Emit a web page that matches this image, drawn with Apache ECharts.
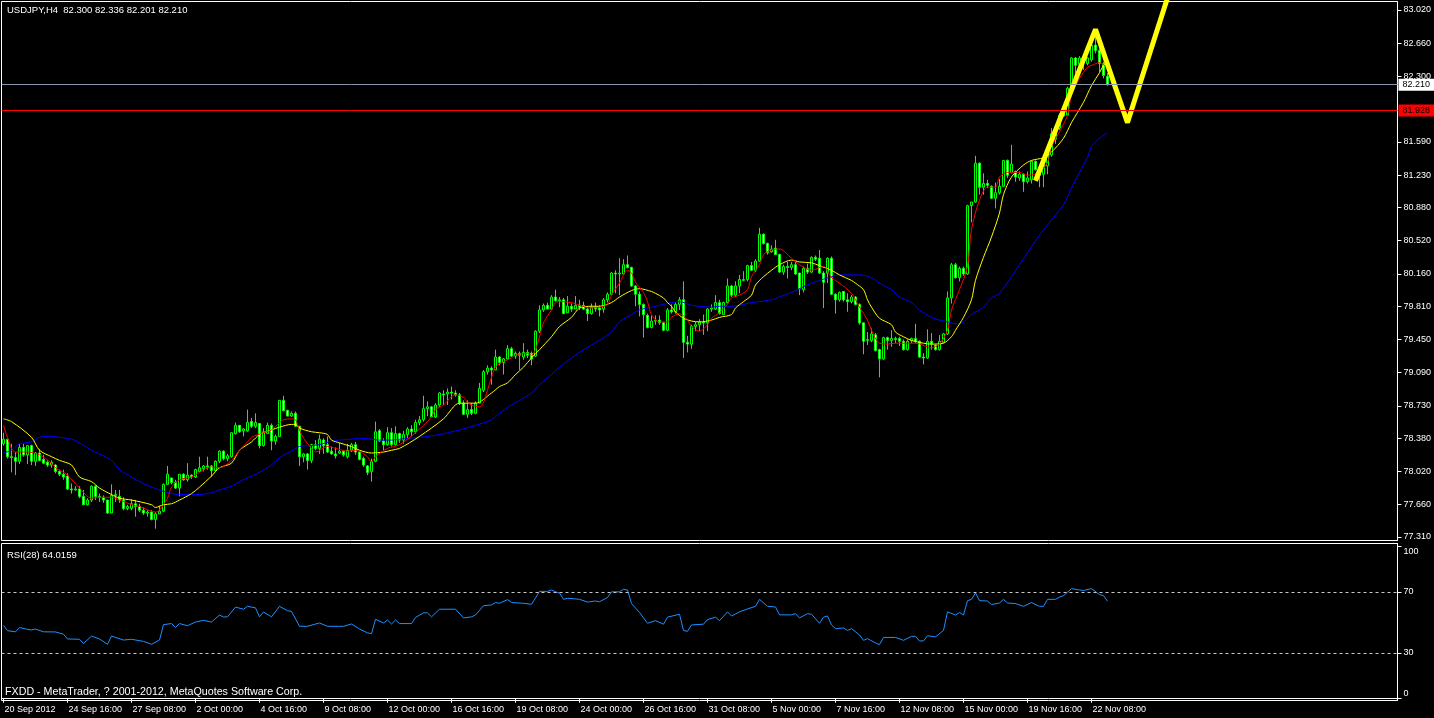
<!DOCTYPE html>
<html><head><meta charset="utf-8">
<script src="https://cdn.jsdelivr.net/npm/echarts@6/dist/echarts.min.js"></script>
<style>html,body{margin:0;padding:0;background:#000;overflow:hidden}#c{width:1434px;height:718px}</style>
</head><body><div id="c"></div>
<script>
const FONT = 'Liberation Sans, Arial, sans-serif';
const headerText = 'USDJPY,H4  82.300 82.336 82.201 82.210';
const rsiText = 'RSI(28) 64.0159';
const footerText = 'FXDD - MetaTrader, ? 2001-2012, MetaQuotes Software Corp.';
const tickLabels = ['20 Sep 2012','24 Sep 16:00','27 Sep 08:00','2 Oct 00:00','4 Oct 16:00','9 Oct 08:00','12 Oct 00:00','16 Oct 16:00','19 Oct 08:00','24 Oct 00:00','26 Oct 16:00','31 Oct 08:00','5 Nov 00:00','7 Nov 16:00','12 Nov 08:00','15 Nov 00:00','19 Nov 16:00','22 Nov 08:00'];
const priceTicks = [83.020,82.660,82.300,81.590,81.230,80.880,80.520,80.160,79.810,79.450,79.090,78.730,78.380,78.020,77.660,77.310];
const rsiTicks = [100,70,30,0];
const rsiLevels = [70,30];
const bidPrice = 82.210;
const levelPrice = 81.928;
// [open, high, low, close]
const candles = [
[78.32,78.44,78.30,78.37],[78.37,78.37,78.16,78.18],[78.18,78.32,78.01,78.17],[78.17,78.23,77.98,78.13],[78.13,78.32,78.10,78.28],
[78.28,78.32,78.18,78.20],[78.20,78.30,78.10,78.30],[78.30,78.31,78.09,78.13],[78.13,78.23,78.08,78.22],[78.22,78.26,78.13,78.14],
[78.15,78.20,78.10,78.11],[78.12,78.14,78.07,78.09],[78.09,78.14,78.06,78.12],[78.09,78.10,78.00,78.02],[78.02,78.04,77.97,77.99],
[77.99,78.04,77.93,77.96],[77.97,78.00,77.82,77.83],[77.83,77.89,77.78,77.82],[77.82,77.86,77.81,77.83],[77.83,77.86,77.73,77.75],
[77.75,77.82,77.66,77.66],[77.66,77.73,77.65,77.71],[77.71,77.87,77.69,77.86],[77.86,77.87,77.71,77.75],[77.75,77.78,77.69,77.74],
[77.74,77.76,77.68,77.71],[77.71,77.71,77.56,77.57],[77.57,77.88,77.57,77.76],[77.76,77.82,77.69,77.77],[77.75,77.82,77.68,77.71],
[77.71,77.74,77.60,77.62],[77.62,77.66,77.60,77.64],[77.62,77.72,77.60,77.67],[77.67,77.71,77.53,77.64],[77.64,77.67,77.58,77.60],
[77.60,77.63,77.55,77.57],[77.57,77.60,77.53,77.58],[77.58,77.60,77.49,77.50],[77.50,77.58,77.40,77.56],[77.56,77.65,77.56,77.59],
[77.59,77.89,77.58,77.88],[77.88,78.08,77.88,77.99],[77.95,77.95,77.88,77.90],[77.90,77.93,77.83,77.84],[77.84,77.99,77.75,77.99],
[77.99,78.00,77.92,77.93],[77.93,78.11,77.91,77.98],[77.98,77.99,77.94,77.96],[77.96,78.05,77.95,78.04],[78.02,78.18,78.02,78.06],
[78.05,78.09,78.02,78.08],[78.08,78.18,78.04,78.07],[78.08,78.09,77.96,78.03],[78.03,78.14,78.02,78.13],[78.13,78.25,78.11,78.24],
[78.24,78.25,78.14,78.16],[78.16,78.21,78.13,78.19],[78.18,78.44,78.17,78.44],[78.43,78.55,78.42,78.52],[78.52,78.52,78.44,78.45],
[78.46,78.49,78.40,78.48],[78.46,78.69,78.45,78.55],[78.56,78.60,78.49,78.51],[78.51,78.65,78.49,78.55],[78.54,78.54,78.27,78.30],
[78.30,78.49,78.29,78.45],[78.43,78.55,78.43,78.52],[78.52,78.54,78.25,78.35],[78.35,78.42,78.31,78.40],[78.40,78.79,78.40,78.79],
[78.79,78.84,78.67,78.68],[78.68,78.69,78.62,78.62],[78.62,78.67,78.61,78.65],[78.65,78.67,78.51,78.51],[78.51,78.51,78.08,78.18],
[78.18,78.22,78.12,78.21],[78.21,78.22,78.04,78.14],[78.14,78.32,78.11,78.31],[78.31,78.36,78.25,78.27],[78.27,78.42,78.21,78.37],
[78.36,78.38,78.21,78.30],[78.31,78.40,78.22,78.23],[78.24,78.29,78.20,78.21],[78.21,78.28,78.16,78.19],[78.22,78.33,78.21,78.24],
[78.24,78.25,78.18,78.20],[78.18,78.32,78.16,78.25],[78.25,78.33,78.23,78.31],[78.31,78.34,78.20,78.23],[78.23,78.23,78.14,78.15],
[78.16,78.18,78.07,78.09],[78.08,78.09,77.98,78.01],[78.02,78.16,77.91,78.13],[78.13,78.56,78.12,78.45],[78.46,78.48,78.34,78.35],
[78.35,78.38,78.25,78.31],[78.31,78.50,78.30,78.44],[78.44,78.49,78.29,78.31],[78.31,78.51,78.30,78.43],[78.43,78.44,78.33,78.36],
[78.36,78.46,78.32,78.42],[78.42,78.50,78.38,78.48],[78.48,78.52,78.40,78.45],[78.45,78.58,78.43,78.55],[78.55,78.62,78.52,78.58],
[78.58,78.84,78.56,78.70],[78.70,78.78,78.62,78.72],[78.72,78.73,78.61,78.61],[78.61,78.76,78.60,78.74],[78.74,78.88,78.72,78.87],
[78.86,78.90,78.74,78.85],[78.86,78.92,78.74,78.88],[78.88,78.94,78.80,78.87],[78.87,78.90,78.83,78.85],[78.85,78.87,78.74,78.76],
[78.76,78.79,78.63,78.64],[78.64,78.79,78.60,78.69],[78.69,78.76,78.63,78.65],[78.65,78.78,78.64,78.76],[78.76,78.98,78.76,78.92],
[78.90,79.12,78.88,79.10],[79.10,79.17,79.07,79.14],[79.14,79.16,78.96,79.12],[79.12,79.34,79.12,79.26],[79.26,79.27,79.17,79.20],
[79.20,79.25,79.07,79.24],[79.24,79.39,79.23,79.35],[79.35,79.37,79.26,79.27],[79.27,79.32,79.24,79.30],[79.30,79.32,79.12,79.28],
[79.26,79.41,79.23,79.31],[79.31,79.34,79.25,79.28],[79.30,79.32,79.17,79.24],[79.27,79.55,79.26,79.54],[79.54,79.82,79.52,79.77],
[79.77,79.84,79.75,79.82],[79.82,79.85,79.78,79.78],[79.78,79.93,79.77,79.91],[79.91,79.99,79.86,79.87],[79.87,79.91,79.80,79.88],
[79.88,79.90,79.73,79.73],[79.74,79.92,79.74,79.81],[79.81,79.84,79.75,79.78],[79.78,79.92,79.78,79.82],[79.82,79.88,79.77,79.80],
[79.82,79.86,79.77,79.78],[79.78,79.79,79.65,79.73],[79.73,79.84,79.72,79.80],[79.80,79.85,79.75,79.78],[79.79,79.82,79.70,79.77],
[79.78,79.90,79.74,79.88],[79.88,79.96,79.85,79.94],[79.94,80.18,79.93,80.17],[80.17,80.20,79.95,80.16],[80.16,80.33,79.93,80.17],
[80.16,80.32,80.15,80.26],[80.26,80.36,80.22,80.23],[80.23,80.24,80.02,80.03],[80.03,80.04,79.81,79.94],[79.94,79.97,79.70,79.83],
[79.83,79.84,79.47,79.72],[79.71,79.73,79.57,79.58],[79.58,79.71,79.57,79.65],[79.65,79.71,79.61,79.66],[79.66,79.71,79.61,79.63],
[79.63,79.64,79.54,79.55],[79.55,79.79,79.54,79.77],[79.77,79.83,79.73,79.75],[79.75,79.85,79.73,79.83],[79.83,79.91,79.77,79.88],
[79.88,80.08,79.25,79.42],[79.42,79.49,79.31,79.40],[79.40,79.61,79.35,79.59],[79.59,79.64,79.54,79.61],[79.61,79.67,79.54,79.64],
[79.64,79.72,79.50,79.63],[79.63,79.79,79.54,79.78],[79.78,79.83,79.75,79.79],[79.78,79.93,79.77,79.85],[79.85,79.88,79.72,79.73],
[79.72,79.86,79.72,79.85],[79.85,80.11,79.84,80.03],[80.03,80.04,79.91,79.93],[79.93,80.08,79.91,80.03],[80.03,80.15,79.95,80.10],
[80.09,80.19,80.08,80.10],[80.10,80.26,80.08,80.25],[80.25,80.29,80.19,80.20],[80.20,80.32,80.18,80.30],[80.30,80.66,80.29,80.59],
[80.59,80.60,80.48,80.49],[80.49,80.50,80.37,80.39],[80.40,80.47,80.39,80.43],[80.44,80.53,80.37,80.37],[80.37,80.38,80.17,80.18],
[80.18,80.26,80.15,80.24],[80.24,80.29,80.11,80.23],[80.23,80.29,80.20,80.26],[80.26,80.29,80.15,80.16],[80.17,80.17,79.93,80.00],
[79.99,80.24,79.96,80.22],[80.22,80.27,80.16,80.18],[80.18,80.35,80.17,80.34],[80.34,80.36,80.30,80.32],[80.33,80.42,80.16,80.17],
[80.17,80.19,79.79,80.07],[80.17,80.34,80.06,80.33],[80.33,80.35,79.93,79.94],[79.94,79.95,79.73,79.88],[79.88,79.97,79.86,79.96],
[79.97,79.97,79.86,79.88],[79.88,79.95,79.75,79.86],[79.86,79.93,79.84,79.91],[79.91,79.92,79.82,79.83],[79.83,79.84,79.61,79.63],
[79.63,79.63,79.29,79.43],[79.44,79.53,79.39,79.45],[79.44,79.57,79.42,79.51],[79.50,79.52,79.32,79.33],[79.34,79.35,79.04,79.24],
[79.24,79.48,79.23,79.47],[79.47,79.48,79.34,79.44],[79.44,79.55,79.37,79.46],[79.46,79.48,79.41,79.45],[79.46,79.48,79.38,79.43],
[79.43,79.45,79.33,79.34],[79.34,79.45,79.33,79.43],[79.44,79.47,79.41,79.46],[79.46,79.62,79.41,79.43],[79.43,79.44,79.25,79.26],
[79.26,79.30,79.18,79.25],[79.25,79.56,79.24,79.43],[79.43,79.52,79.34,79.40],[79.39,79.39,79.33,79.34],[79.34,79.50,79.33,79.43],
[79.42,79.52,79.41,79.51],[79.51,79.97,79.50,79.90],[79.90,80.28,79.84,80.26],[80.26,80.28,80.11,80.12],[80.12,80.24,80.08,80.22],
[80.22,80.24,80.14,80.16],[80.16,80.91,80.15,80.90],[80.90,80.94,80.72,80.94],[80.94,81.44,80.93,81.36],[81.36,81.37,81.02,81.10],
[81.10,81.25,81.02,81.14],[81.14,81.18,81.09,81.12],[81.11,81.12,80.97,80.98],[80.98,81.15,80.87,81.04],[81.04,81.19,81.02,81.11],
[81.11,81.39,81.10,81.39],[81.39,81.40,81.20,81.23],[81.26,81.56,81.25,81.35],[81.27,81.28,81.16,81.21],[81.20,81.27,81.17,81.24],
[81.24,81.25,81.05,81.16],[81.16,81.27,81.14,81.20],[81.18,81.39,81.14,81.38],[81.38,81.39,81.28,81.29],[81.29,81.30,81.10,81.23],
[81.24,81.38,81.10,81.34],[81.33,81.47,81.24,81.45],[81.45,81.74,81.43,81.68],[81.62,81.77,81.57,81.74],[81.74,81.90,81.72,81.88],
[81.87,81.99,81.86,81.97],[81.88,82.19,81.88,82.17],[82.17,82.51,82.17,82.50],[82.50,82.51,82.33,82.42],[82.43,82.52,82.42,82.50],
[82.50,82.51,82.37,82.46],[82.44,82.51,82.42,82.50],[82.48,82.66,82.46,82.64],[82.64,82.80,82.55,82.58],[82.58,82.60,82.35,82.44],
[82.44,82.46,82.28,82.31],[82.300,82.336,82.201,82.210]
];
// [bar index, value]
const maFast = [[0,78.52],[2,78.27],[3,78.23],[6,78.23],[9,78.20],[12,78.11],[13,78.06],[16,77.98],[19,77.84],[22,77.73],[24,77.74],[27,77.74],[29,77.71],[32,77.66],[34,77.64],[38,77.58],[39,77.60],[41,77.73],[42,77.85],[44,77.93],[47,77.96],[49,78.01],[52,78.07],[54,78.06],[57,78.14],[59,78.25],[61,78.34],[62,78.39],[65,78.44],[67,78.47],[69,78.55],[70,78.58],[72,78.59],[73,78.58],[74,78.47],[75,78.38],[77,78.27],[78,78.23],[81,78.29],[83,78.27],[86,78.24],[88,78.25],[91,78.18],[92,78.12],[93,78.18],[96,78.27],[99,78.31],[103,78.44],[107,78.61],[108,78.69],[110,78.74],[112,78.83],[113,78.85],[115,78.82],[116,78.77],[117,78.74],[119,78.72],[120,78.77],[121,78.90],[122,79.04],[123,79.15],[125,79.21],[127,79.25],[128,79.28],[131,79.30],[132,79.28],[133,79.34],[134,79.48],[135,79.63],[137,79.77],[138,79.85],[139,79.86],[142,79.85],[144,79.82],[147,79.79],[149,79.80],[151,79.83],[152,79.93],[154,80.06],[156,80.20],[157,80.17],[158,80.07],[160,79.96],[161,79.86],[162,79.72],[164,79.64],[166,79.64],[167,79.69],[169,79.73],[171,79.66],[172,79.59],[174,79.54],[176,79.61],[177,79.68],[179,79.74],[181,79.83],[182,79.90],[184,79.93],[186,79.99],[187,80.13],[189,80.26],[190,80.37],[192,80.42],[194,80.43],[197,80.33],[199,80.26],[202,80.20],[205,80.24],[207,80.12],[209,80.06],[212,79.95],[214,79.80],[216,79.66],[217,79.55],[219,79.41],[221,79.40],[223,79.41],[226,79.41],[228,79.41],[231,79.37],[232,79.36],[234,79.40],[236,79.55],[237,79.77],[239,79.99],[241,80.24],[242,80.64],[244,80.96],[246,81.10],[248,81.10],[249,81.21],[251,81.26],[254,81.26],[256,81.23],[259,81.26],[261,81.37],[262,81.54],[264,81.70],[266,81.88],[267,82.10],[269,82.28],[271,82.40],[272,82.42],[274,82.45],[276,82.39]];
const maMid = [[0,78.59],[2,78.56],[7,78.39],[9,78.25],[12,78.18],[14,78.14],[17,78.09],[19,77.96],[22,77.91],[24,77.84],[27,77.77],[29,77.73],[32,77.71],[37,77.66],[38,77.63],[40,77.66],[42,77.67],[44,77.71],[47,77.78],[49,77.85],[52,77.97],[54,78.06],[57,78.11],[59,78.25],[62,78.34],[64,78.42],[67,78.47],[69,78.50],[72,78.53],[73,78.53],[74,78.49],[77,78.45],[79,78.44],[81,78.42],[82,78.36],[84,78.33],[87,78.29],[89,78.25],[92,78.22],[95,78.23],[97,78.25],[99,78.27],[104,78.40],[110,78.59],[114,78.76],[118,78.76],[122,78.87],[124,78.94],[126,78.98],[128,79.07],[130,79.15],[132,79.25],[134,79.34],[137,79.48],[139,79.59],[142,79.69],[144,79.79],[147,79.81],[149,79.81],[152,79.85],[154,79.91],[157,79.98],[159,80.00],[162,79.97],[163,79.95],[165,79.90],[166,79.85],[167,79.81],[168,79.75],[170,79.68],[172,79.65],[174,79.64],[177,79.66],[179,79.69],[182,79.72],[183,79.79],[185,79.86],[187,79.93],[188,80.04],[190,80.13],[192,80.20],[194,80.26],[197,80.31],[199,80.29],[202,80.28],[204,80.25],[207,80.20],[209,80.15],[212,80.09],[213,80.06],[215,79.99],[216,79.88],[217,79.80],[219,79.68],[222,79.61],[223,79.53],[225,79.48],[227,79.44],[230,79.41],[232,79.40],[235,79.41],[237,79.48],[238,79.55],[240,79.69],[242,79.88],[243,80.09],[245,80.34],[247,80.56],[249,80.82],[250,81.02],[252,81.21],[255,81.34],[257,81.39],[260,81.42],[262,81.48],[265,81.63],[267,81.80],[270,82.02],[272,82.20],[274,82.34],[275,82.42],[276,82.46]];
const maSlow = [[0,78.22],[2,78.25],[4,78.32],[7,78.34],[9,78.39],[12,78.40],[14,78.39],[17,78.37],[19,78.33],[22,78.25],[24,78.21],[27,78.14],[29,78.04],[32,77.96],[34,77.91],[37,77.85],[39,77.82],[42,77.78],[44,77.77],[47,77.77],[49,77.77],[52,77.79],[54,77.82],[57,77.86],[59,77.91],[62,77.97],[64,78.01],[67,78.09],[69,78.17],[72,78.24],[74,78.29],[77,78.30],[79,78.31],[82,78.35],[84,78.36],[87,78.37],[89,78.38],[92,78.37],[94,78.36],[97,78.36],[99,78.37],[104,78.39],[109,78.42],[114,78.47],[118,78.52],[122,78.58],[124,78.65],[127,78.74],[129,78.79],[132,78.87],[134,78.96],[137,79.07],[139,79.15],[142,79.25],[144,79.31],[147,79.39],[149,79.44],[152,79.53],[154,79.64],[157,79.72],[159,79.77],[162,79.80],[164,79.82],[167,79.85],[169,79.86],[172,79.82],[174,79.81],[177,79.80],[179,79.81],[182,79.81],[184,79.82],[187,79.85],[189,79.86],[192,79.88],[194,79.91],[197,79.96],[199,80.00],[202,80.06],[204,80.09],[207,80.13],[209,80.15],[214,80.15],[217,80.12],[219,80.06],[222,79.99],[224,79.91],[227,79.85],[229,79.77],[232,79.69],[234,79.66],[237,79.63],[238,79.62],[240,79.64],[242,79.72],[245,79.80],[247,79.90],[249,79.95],[254,80.26],[259,80.58],[265,80.91],[267,81.09],[269,81.26],[271,81.42],[272,81.54],[274,81.63],[276,81.69]];
const zigzag = [[258,81.17],[273,82.81],[281,81.80],[293,83.42]];
const rsi = [[0,48.1],[1,44.6],[3,43.9],[4,46.7],[6,45.5],[7,45.1],[8,45.7],[10,43.9],[13,43.8],[15,42.3],[16,39.2],[19,39.0],[20,36.2],[22,41.1],[24,39.2],[26,35.7],[27,41.1],[30,38.5],[32,39.0],[35,37.6],[37,35.7],[39,38.5],[40,48.6],[42,49.3],[43,46.7],[44,49.3],[46,47.9],[48,50.3],[50,51.4],[52,50.3],[54,54.9],[55,53.6],[56,53.7],[58,60.1],[60,58.7],[61,60.6],[63,59.6],[64,53.7],[65,56.9],[67,53.7],[69,60.6],[71,57.7],[72,57.3],[74,47.5],[76,47.5],[78,49.0],[79,49.7],[81,47.5],[84,47.5],[85,47.5],[87,49.0],[89,45.7],[91,43.2],[92,42.7],[93,52.1],[95,49.7],[96,51.6],[97,49.0],[98,51.6],[99,49.3],[102,49.3],[103,53.3],[105,56.3],[106,56.3],[107,53.7],[109,58.7],[113,58.7],[115,53.0],[117,53.7],[118,54.9],[120,61.0],[122,61.5],[123,63.1],[124,62.6],[126,65.0],[127,63.1],[130,62.6],[132,61.9],[133,66.1],[134,70.4],[136,70.4],[137,71.3],[138,70.1],[139,69.4],[140,65.2],[141,65.9],[144,65.2],[146,63.4],[148,64.1],[149,63.6],[151,66.4],[152,70.1],[154,70.1],[155,71.8],[156,71.3],[157,62.4],[159,56.6],[161,49.5],[163,51.2],[165,48.9],[166,53.5],[169,55.4],[170,44.8],[171,44.2],[172,48.4],[175,48.9],[176,51.9],[178,53.5],[179,51.2],[181,57.0],[182,54.2],[184,57.0],[186,58.9],[188,60.6],[189,65.2],[191,60.6],[193,60.2],[194,55.0],[197,55.0],[198,55.8],[199,53.0],[201,55.8],[202,55.4],[204,49.5],[205,53.5],[206,54.3],[207,48.4],[208,46.0],[210,46.4],[211,44.8],[212,46.0],[214,41.8],[215,38.3],[216,39.4],[218,36.6],[219,35.5],[220,40.2],[223,40.2],[225,38.3],[227,40.9],[228,40.9],[229,37.9],[230,37.9],[231,41.3],[233,40.6],[235,44.8],[236,57.0],[238,54.9],[239,56.6],[240,54.9],[241,64.3],[242,65.2],[243,69.4],[244,64.3],[246,64.1],[247,61.7],[249,62.8],[250,65.2],[251,62.8],[253,62.4],[255,60.6],[257,63.1],[259,60.6],[260,60.6],[261,65.2],[263,65.2],[264,66.6],[265,67.6],[267,72.2],[269,71.3],[270,71.0],[272,72.2],[274,68.3],[275,67.6],[276,64.0]];

const SLOTS = 349, TICK_EVERY = 16;
const MONTHS = ['Jan','Feb','Mar','Apr','May','Jun','Jul','Aug','Sep','Oct','Nov','Dec'];
const categories = [];
for (let t = Date.UTC(2012, 8, 20, 0); categories.length < SLOTS; t += 4 * 3600 * 1000) {
  const d = new Date(t), wd = d.getUTCDay();
  if (wd === 0 || wd === 6) continue;
  categories.push(d.getUTCDate() + ' ' + MONTHS[d.getUTCMonth()] + ' ' + String(d.getUTCHours()).padStart(2, '0') + ':00');
}
const ohlcData = candles.map(c => [c[0], c[3], c[2], c[1]]);
const isTick = (i) => i % TICK_EVERY === 0 && i / TICK_EVERY < tickLabels.length;

const chart = echarts.init(document.getElementById('c'), null, {renderer: 'canvas'});
const white = '#ffffff';
const lbl = {color: white, fontFamily: FONT, fontSize: 9};
const tagLabel = (text, bg) => ({show: true, position: 'end', distance: 1, formatter: () => text,
  backgroundColor: bg, color: '#000', fontFamily: FONT, fontSize: 9, padding: [2, 4, 1, 4]});
chart.setOption({
  backgroundColor: '#000',
  animation: false,
  grid: [
    {left: 1.5, top: 1.5, width: 1396, height: 539, show: true, borderColor: white, borderWidth: 1, backgroundColor: '#000'},
    {left: 1.5, top: 543.5, width: 1396, height: 157, show: true, borderColor: white, borderWidth: 1, backgroundColor: '#000'}
  ],
  xAxis: [
    {type: 'category', gridIndex: 0, data: categories, boundaryGap: true,
     axisLine: {show: false}, axisTick: {show: false}, axisLabel: {show: false}, splitLine: {show: false}},
    {type: 'category', gridIndex: 1, data: categories, boundaryGap: true,
     axisLine: {show: true, lineStyle: {color: white}},
     axisTick: {show: true, alignWithLabel: true, length: 4, lineStyle: {color: white}, interval: (i) => isTick(i)},
     axisLabel: Object.assign({}, lbl, {interval: (i) => isTick(i), formatter: (v, i) => tickLabels[i / TICK_EVERY], align: 'left', margin: 5, padding: [0, 0, 0, 1]}),
     splitLine: {show: false}}
  ],
  yAxis: [
    {type: 'value', gridIndex: 0, position: 'right', min: 77.272, max: 83.112, splitLine: {show: false},
     axisLine: {show: true, lineStyle: {color: white}},
     axisTick: {show: true, length: 4, lineStyle: {color: white}, customValues: priceTicks},
     axisLabel: Object.assign({}, lbl, {customValues: priceTicks, formatter: v => v.toFixed(3), margin: 6})},
    {type: 'value', gridIndex: 1, position: 'right', min: -1.15, max: 101.8, splitLine: {show: false},
     axisLine: {show: true, lineStyle: {color: white}},
     axisTick: {show: true, length: 4, lineStyle: {color: white}, customValues: rsiTicks},
     axisLabel: Object.assign({}, lbl, {customValues: rsiTicks, margin: 6,
       formatter: v => v === 100 ? '{t|100}' : (v === 0 ? '{b|0}' : String(v)),
       rich: {t: {padding: [10, 0, 0, 0], color: white, fontFamily: FONT, fontSize: 9}, b: {padding: [0, 0, 10, 0], color: white, fontFamily: FONT, fontSize: 9}}})}
  ],
  series: [
    {type: 'candlestick', xAxisIndex: 0, yAxisIndex: 0, data: ohlcData, barWidth: 2, z: 2,
     itemStyle: {color: '#000000', color0: '#ffffff', borderColor: '#00ff00', borderColor0: '#00ff00', borderWidth: 1},
     markLine: {silent: true, symbol: ['none', 'none'], animation: false,
       data: [
         {yAxis: bidPrice, lineStyle: {color: '#8c96aa', width: 1, type: 'solid'}, label: tagLabel(bidPrice.toFixed(3), '#ffffff')},
         {yAxis: levelPrice, lineStyle: {color: '#ff0000', width: 1, type: 'solid'}, label: tagLabel(levelPrice.toFixed(3), '#ff0000')}
       ]}},
    {type: 'line', xAxisIndex: 0, yAxisIndex: 0, data: maSlow, smooth: 0.3, symbol: 'none', z: 3, lineStyle: {color: '#0000ff', width: 1}},
    {type: 'line', xAxisIndex: 0, yAxisIndex: 0, data: maMid, smooth: 0.3, symbol: 'none', z: 3, lineStyle: {color: '#ffff00', width: 1}},
    {type: 'line', xAxisIndex: 0, yAxisIndex: 0, data: maFast, smooth: 0.3, symbol: 'none', z: 3, lineStyle: {color: '#ff0000', width: 1}},
    {type: 'line', xAxisIndex: 0, yAxisIndex: 0, data: zigzag, symbol: 'none', z: 4, clip: true, lineStyle: {color: '#ffff00', width: 5}},
    {type: 'line', xAxisIndex: 1, yAxisIndex: 1, data: rsi, symbol: 'none', z: 3, lineStyle: {color: '#1e90ff', width: 1},
     markLine: {silent: true, symbol: ['none', 'none'], animation: false, label: {show: false},
       lineStyle: {color: '#c8c8c8', width: 1, type: [3, 3]},
       data: rsiLevels.map(v => ({yAxis: v}))}}
  ],
  graphic: [
    {type: 'text', left: 7, top: 5, z: 10, style: {text: headerText, fill: white, font: '9.5px ' + FONT}},
    {type: 'text', left: 7, top: 550, z: 10, style: {text: rsiText, fill: white, font: '9.5px ' + FONT}},
    {type: 'text', left: 5, top: 687, z: 10, style: {text: footerText, fill: white, font: '10.7px ' + FONT}}
  ]
});
</script></body></html>
